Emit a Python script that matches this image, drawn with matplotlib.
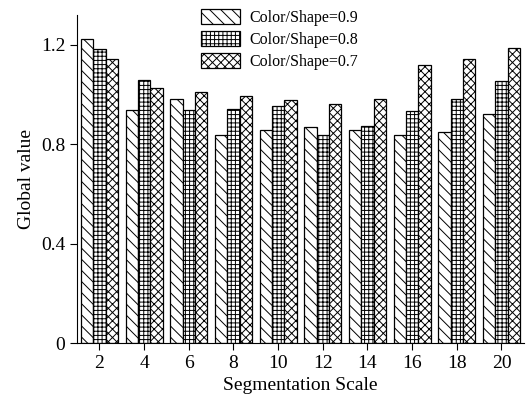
import numpy as np
import matplotlib.pyplot as plt

plt.rcParams['font.family'] = ['Liberation Serif', 'DejaVu Serif']
plt.rcParams['hatch.linewidth'] = 0.7

scales = [2, 4, 6, 8, 10, 12, 14, 16, 18, 20]
labels = ['Color/Shape=0.9', 'Color/Shape=0.8', 'Color/Shape=0.7']
v09 = [1.222, 0.937, 0.983, 0.837, 0.857, 0.870, 0.859, 0.837, 0.848, 0.923]
v08 = [1.184, 1.059, 0.937, 0.941, 0.952, 0.839, 0.872, 0.933, 0.983, 1.056]
v07 = [1.144, 1.027, 1.009, 0.993, 0.979, 0.962, 0.980, 1.120, 1.144, 1.187]
hatches = ['\\\\\\', '++++', 'xxxx']

fig = plt.figure(figsize=(5.28, 4.05), dpi=100)
ax = fig.add_axes([0.146, 0.153, 0.846, 0.81])

x = np.array(scales, dtype=float)
w = 0.55
for i, (vals, lab, h) in enumerate(zip([v09, v08, v07], labels, hatches)):
    ax.bar(x + (i - 1) * w, vals, width=w, facecolor='white', edgecolor='black',
           linewidth=0.9, hatch=h, label=lab)

ax.set_xlim(1, 21)
ax.set_ylim(0, 1.32)
ax.set_xticks(scales)
ax.set_yticks([0, 0.4, 0.8, 1.2])
ax.set_yticklabels(['0', '0.4', '0.8', '1.2'])
ax.spines['top'].set_visible(False)
ax.spines['right'].set_visible(False)
ax.tick_params(direction='out', labelsize=14, length=5)
ax.set_xlabel('Segmentation Scale', fontsize=14)
ax.set_ylabel('Global value', fontsize=14)

fig.legend(loc='upper left', bbox_to_anchor=(0.36, 1.005), frameon=False,
           fontsize=11.5, handlelength=2.4, handleheight=1.1, labelspacing=0.3,
           handletextpad=0.6, borderpad=0.2)

fig.savefig('out.png', dpi=100)
